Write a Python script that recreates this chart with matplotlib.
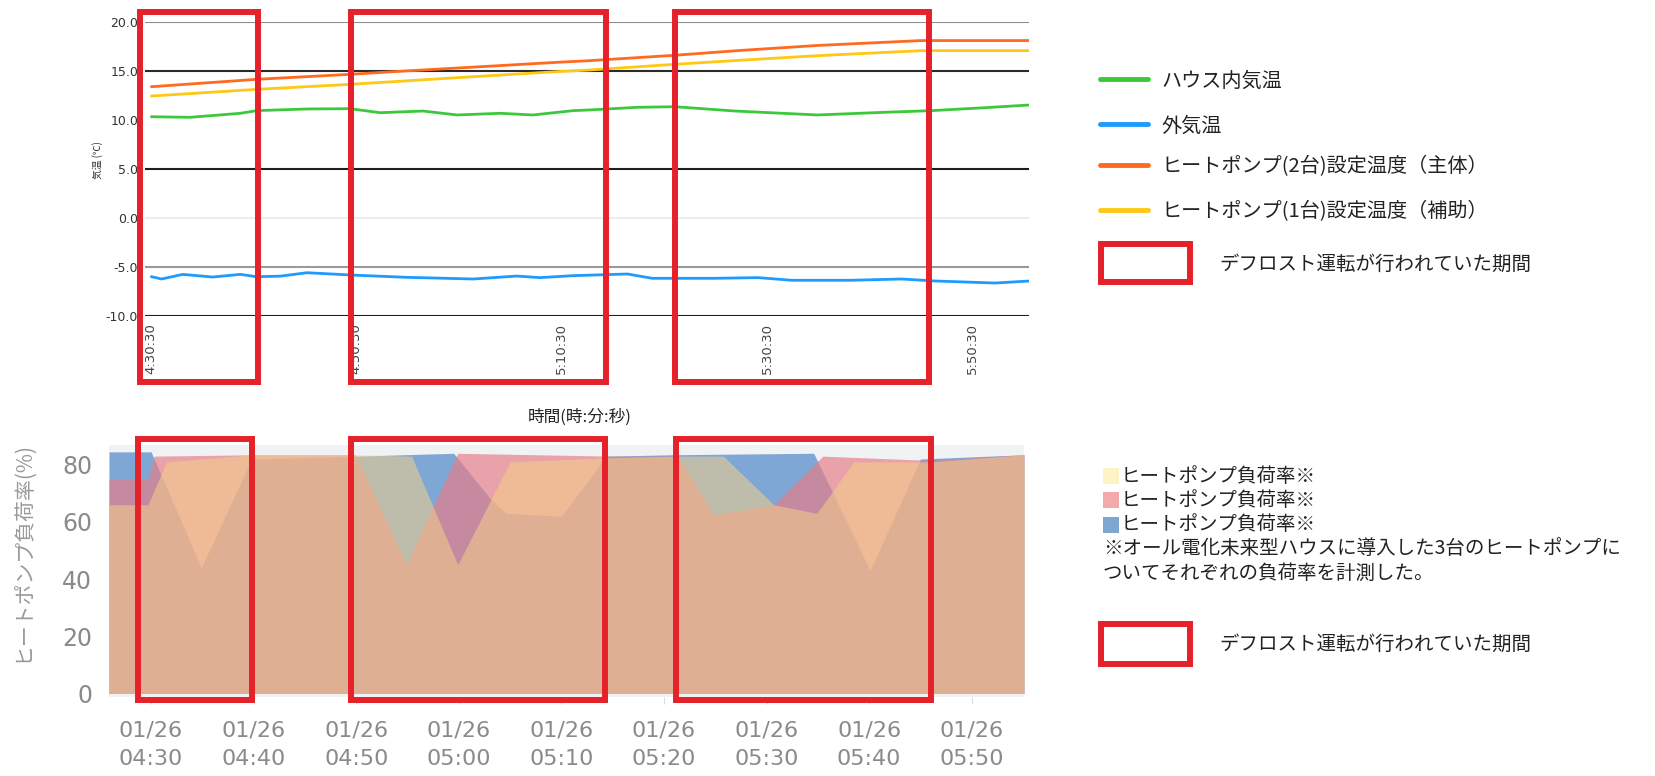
import matplotlib
matplotlib.use('Agg')
import matplotlib.pyplot as plt
import matplotlib.transforms as mtransforms
from matplotlib.patches import Rectangle
from matplotlib.lines import Line2D

W, H = 1655, 776
JP = ['Noto Sans CJK JP', 'DejaVu Sans']
RED = '#e62129'

# ===== top chart data (minutes after 4:30:00, deg C) =====
house_t = [0.57, 4.3, 9.2, 10.8, 15.7, 19.9, 22.8, 27.0, 30.3, 34.5, 37.7, 41.6,
           43.2, 47.9, 51.5, 57.4, 65.4, 71.9, 76.5, 81.7, 86.1]
house_v = [10.34, 10.28, 10.69, 10.96, 11.13, 11.16, 10.75, 10.92, 10.52, 10.69, 10.52, 10.96,
           11.03, 11.30, 11.36, 10.92, 10.52, 10.79, 10.96, 11.26, 11.54]

outside_t = [0.57, 1.54, 3.6, 6.5, 9.2, 10.8, 13.1, 15.7, 19.9, 25.4, 31.9, 36.1,
             38.4, 41.6, 46.9, 49.3, 55.4, 59.6, 62.9, 68.7, 73.6, 76.8, 82.7, 86.1]
outside_v = [-5.96, -6.19, -5.72, -5.99, -5.72, -5.96, -5.90, -5.55, -5.78, -6.02, -6.19, -5.89,
             -6.05, -5.85, -5.68, -6.12, -6.12, -6.05, -6.32, -6.32, -6.19, -6.39, -6.60, -6.39]

hp2_t = [0.57, 10.8, 19.9, 24.1, 32.0, 40.0, 43.2, 51.5, 58.0, 65.4, 75.5, 86.1]
hp2_v = [13.40, 14.15, 14.66, 14.93, 15.40, 15.88, 16.05, 16.60, 17.10, 17.60, 18.10, 18.10]

hp1_t = [0.57, 10.8, 19.9, 31.9, 40.0, 43.2, 51.5, 58.0, 65.4, 75.5, 86.1]
hp1_v = [12.45, 13.13, 13.64, 14.42, 14.93, 15.10, 15.68, 16.10, 16.56, 17.07, 17.07]

top_ticks = [0.5, 20.5, 40.5, 60.5, 80.5]
top_ticklabels = ['4:30:30', '4:50:30', '5:10:30', '5:30:30', '5:50:30']
top_yticks = [20, 15, 10, 5, 0, -5, -10]
top_grid_colors = ['#8c8c8c', '#2a2a2a', None, '#1e1e1e', '#ededed', '#9a9a9a', '#1e1e1e']
top_defrost = [(-0.57, 10.97), (19.97, 44.8), (51.5, 76.3)]

# ===== bottom chart data (minutes after 04:30, load %) =====
load_y_t = [-4.1, -0.3, 1.5, 10.0, 20.0, 25.4, 29.9, 35.0, 45.0, 51.0, 55.8, 60.7, 64.9, 68.5, 76.0, 85.1]
load_y_v = [66, 66, 81, 83.5, 83.5, 83, 45, 81, 82.5, 83, 83, 66, 63, 81, 81, 83.5]

load_p_t = [-4.1, -0.3, 0.3, 10.0, 19.9, 24.9, 29.9, 45.0, 51.4, 54.8, 60.7, 64.9, 65.5, 76.0, 85.1]
load_p_v = [75, 75, 83, 83.5, 83.5, 45, 84, 83, 83, 62.5, 66, 81, 83, 81.5, 83.5]

load_b_t = [-4.1, 0.0, 4.9, 9.8, 20.0, 29.5, 33.1, 34.6, 40.0, 44.4, 51.0, 64.6, 70.1, 75.0, 85.1]
load_b_v = [84.5, 84.5, 44, 82, 83, 84, 68, 63, 62, 83, 83.5, 84, 43, 82, 83.5]

bot_ticks = [0, 10, 20, 30, 40, 50, 60, 70, 80]
bot_ticklabels = ['01/26\n04:30', '01/26\n04:40', '01/26\n04:50', '01/26\n05:00', '01/26\n05:10',
                  '01/26\n05:20', '01/26\n05:30', '01/26\n05:40', '01/26\n05:50']
bot_defrost = [(-1.27, 9.84), (19.5, 44.3), (51.2, 76.0)]


def ax_rect(left, top, right, bottom):
    return [left / W, 1 - bottom / H, (right - left) / W, (bottom - top) / H]


def fx(px):
    return px / W


def fy(py):
    return 1 - py / H


fig = plt.figure(figsize=(W / 100, H / 100), dpi=100)

# ===== top: temperature =====
ax1 = fig.add_axes(ax_rect(145, 21.9, 1029, 316.4))
for yv, c in zip(top_yticks, top_grid_colors):
    if c is not None:
        ax1.axhline(yv, color=c, lw=1.5, zorder=1)
ax1.plot(house_t, house_v, color='#3cc83c', lw=2, zorder=3)
ax1.plot(outside_t, outside_v, color='#1e9bff', lw=2, zorder=3)
ax1.plot(hp1_t, hp1_v, color='#ffc814', lw=2, zorder=3)
ax1.plot(hp2_t, hp2_v, color='#ff6a1e', lw=2, zorder=4)
ax1.set_xlim(-0.08, 86.0)
ax1.set_ylim(-10, 20)
ax1.set_yticks(top_yticks)
ax1.set_yticklabels([f'{v:.1f}' for v in top_yticks], fontsize=9, color='#333333')
ax1.set_xticks(top_ticks)
ax1.set_xticklabels(top_ticklabels, rotation=90, fontsize=9.5, color='#444444', va='top')
ax1.tick_params(length=0, pad=5)
for s in ax1.spines.values():
    s.set_visible(False)
fig.text(fx(98), fy(160), '気温 (℃)', rotation=90, fontsize=7, family=JP,
         ha='center', va='center', color='#333333')

trans1 = mtransforms.blended_transform_factory(ax1.transData, ax1.transAxes)
for a, b in top_defrost:
    ax1.add_patch(Rectangle((a, -0.224), b - a, 1.256, transform=trans1, fill=False,
                            ec=RED, lw=4.3, clip_on=False, zorder=6))

fig.text(fx(580), fy(417), '時間(時:分:秒)', fontsize=12, family=JP,
         ha='center', va='center', color='#222222')

# top legend
leg_items = [('ハウス内気温', '#3cc83c', 81), ('外気温', '#1e9bff', 126),
             ('ヒートポンプ(2台)設定温度（主体）', '#ff6a1e', 167),
             ('ヒートポンプ(1台)設定温度（補助）', '#ffc814', 212)]
for label, c, y in leg_items:
    fig.add_artist(Line2D([fx(1100), fx(1148)], [fy(y - 2), fy(y - 2)], color=c, lw=3.5,
                          solid_capstyle='round'))
    fig.text(fx(1161), fy(y), label, fontsize=14.5, family=JP, va='center', color='#222222')

for ytop, ybot, ytxt in [(244, 282, 264), (624, 664, 644)]:
    fig.add_artist(Rectangle((fx(1101), fy(ybot)), (1190 - 1101) / W, (ybot - ytop) / H,
                             transform=fig.transFigure, fill=False, ec=RED, lw=4.3))
    fig.text(fx(1219), fy(ytxt), 'デフロスト運転が行われていた期間', fontsize=14,
             family=JP, va='center', color='#222222')

# ===== bottom: heat pump load =====
ax2 = fig.add_axes(ax_rect(109, 445, 1024, 697))
ax2.set_facecolor('#f1f2f4')
ax2.fill_between(load_b_t, 0, load_b_v, color='#7ea7d6', lw=0, zorder=1)
ax2.fill_between(load_p_t, 0, load_p_v, color='#e67e88', alpha=0.69, lw=0, zorder=2)
ax2.fill_between(load_y_t, 0, load_y_v, color='#f4cf88', alpha=0.55, lw=0, zorder=3)
ax2.set_xlim(-4.1, 85.1)
ax2.set_ylim(-1.23, 86.9)
ax2.set_yticks([0, 20, 40, 60, 80])
ax2.set_yticklabels(['0', '20', '40', '60', '80'], fontsize=17, color='#8a8a8a')
ax2.set_xticks(bot_ticks)
ax2.set_xticklabels(bot_ticklabels, fontsize=16, color='#8a8a8a', linespacing=1.55)
ax2.tick_params(axis='y', length=0, pad=12)
ax2.tick_params(axis='x', length=5, color='#dddddd', pad=12)
for s in ax2.spines.values():
    s.set_visible(False)
fig.text(fx(23), fy(552), 'ヒートポンプ負荷率(%)', rotation=90, fontsize=15, family=JP,
         ha='center', va='center', color='#9a9a9a')

trans2 = mtransforms.blended_transform_factory(ax2.transData, ax2.transAxes)
for a, b in bot_defrost:
    ax2.add_patch(Rectangle((a, -0.01), b - a, 1.034, transform=trans2, fill=False,
                            ec=RED, lw=4.3, clip_on=False, zorder=6))

# bottom legend
sw_items = [('#fdf4c6', 476), ('#f4a9aa', 500), ('#7fa6d1', 525)]
for c, y in sw_items:
    fig.add_artist(Rectangle((fx(1103), fy(y + 8)), 16 / W, 16 / H,
                             transform=fig.transFigure, fc=c, ec='none'))
    fig.text(fx(1121), fy(y), 'ヒートポンプ負荷率※', fontsize=14, family=JP,
             va='center', color='#222222')
fig.text(fx(1103), fy(549), '※オール電化未来型ハウスに導入した3台のヒートポンプに',
         fontsize=14, family=JP, va='center', color='#222222')
fig.text(fx(1103), fy(573), 'ついてそれぞれの負荷率を計測した。',
         fontsize=14, family=JP, va='center', color='#222222')

fig.savefig('out.png', dpi=100)
